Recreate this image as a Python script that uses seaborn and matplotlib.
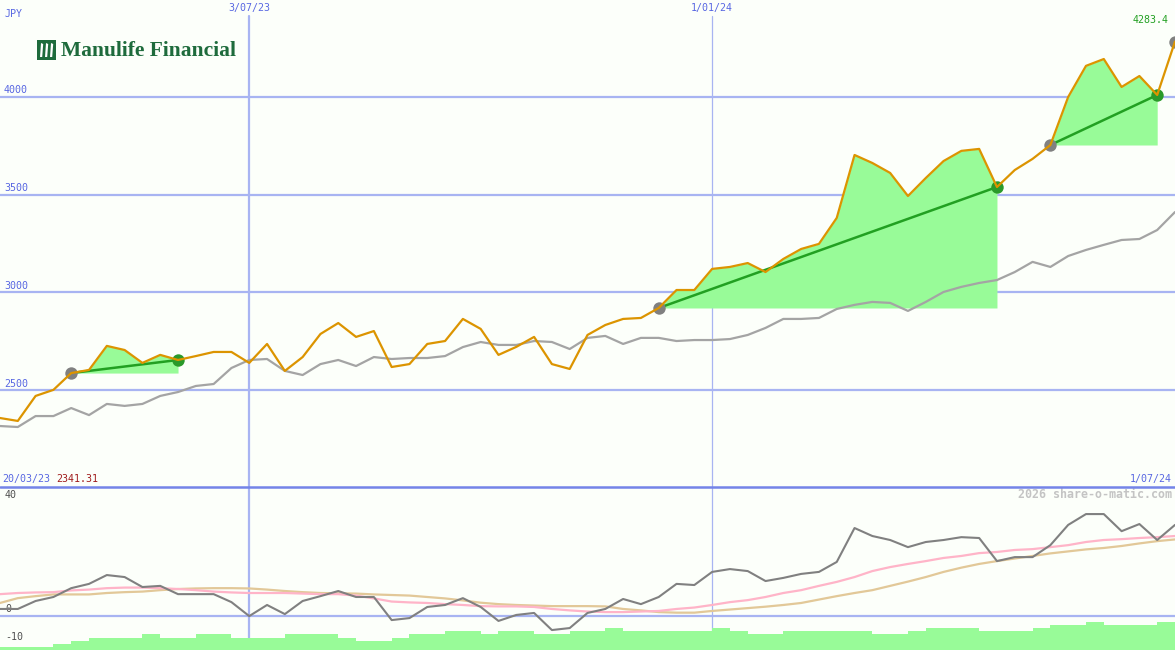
import numpy as np
import pandas as pd
import matplotlib
matplotlib.use("Agg")
import matplotlib.pyplot as plt
import matplotlib.transforms as mtransforms
from matplotlib.patches import Rectangle, Polygon
import seaborn as sns

# ---------------- data ----------------
start_date = "2023-03-27"
n_weeks = 67

price = [2357, 2342, 2470, 2501, 2587, 2603, 2726, 2705, 2639, 2680,
         2654, 2674, 2695, 2695, 2639, 2736, 2598, 2669, 2787, 2843,
         2772, 2802, 2618, 2633, 2736, 2751, 2864, 2813, 2680, 2721,
         2772, 2633, 2608, 2782, 2833, 2864, 2869, 2920, 3012, 3012,
         3120, 3130, 3150, 3104, 3171, 3222, 3248, 3381, 3703, 3662,
         3611, 3493, 3585, 3672, 3724, 3734, 3539, 3626, 3683, 3754,
         4000, 4159, 4194, 4051, 4107, 4010, 4283.4]

average = [2316, 2311, 2367, 2367, 2408, 2372, 2429, 2419, 2429, 2470,
           2490, 2521, 2531, 2613, 2654, 2659, 2598, 2577, 2633, 2654,
           2623, 2669, 2659, 2664, 2664, 2674, 2720, 2746, 2731, 2731,
           2751, 2746, 2710, 2767, 2777, 2736, 2767, 2767, 2751, 2756,
           2756, 2761, 2782, 2818, 2864, 2864, 2869, 2915, 2936, 2951,
           2946, 2905, 2951, 3002, 3028, 3048, 3063, 3104, 3156, 3130,
           3186, 3217, 3243, 3268, 3273, 3319, 3411]

momentum = [2.3, 2.3, 5.1, 6.5, 9.6, 11.1, 14.2, 13.5, 10.0, 10.4,
            7.5, 7.5, 7.5, 4.7, -0.2, 3.7, 0.5, 5.1, 6.8, 8.6,
            6.5, 6.5, -1.6, -0.9, 3.0, 3.7, 6.1, 3.0, -1.9, 0.2,
            0.9, -5.1, -4.4, 0.9, 2.3, 5.8, 4.0, 6.5, 11.1, 10.7,
            15.3, 16.3, 15.6, 12.1, 13.2, 14.6, 15.3, 18.8, 30.7, 27.9,
            26.5, 24.0, 25.8, 26.5, 27.5, 27.2, 19.1, 20.5, 20.5, 24.7,
            31.8, 35.6, 35.6, 29.6, 32.1, 26.5, 31.8]

momentum_fast = [7.5, 7.9, 8.1, 8.2, 8.8, 9.1, 9.6, 9.8, 9.8, 9.6,
                 9.3, 8.9, 8.4, 8.1, 7.9, 7.9, 7.9, 7.7, 7.5, 7.5,
                 7.0, 6.0, 4.9, 4.6, 4.4, 4.0, 3.7, 3.3, 3.2, 3.2,
                 3.0, 2.3, 1.8, 1.4, 1.2, 1.2, 1.4, 1.6, 2.3, 2.8,
                 3.7, 4.7, 5.4, 6.5, 7.9, 8.9, 10.4, 11.8, 13.5, 15.6,
                 17.0, 18.1, 19.1, 20.2, 20.9, 21.9, 22.3, 23.0, 23.3, 24.0,
                 24.7, 25.8, 26.5, 26.8, 27.2, 27.5, 27.9]

momentum_slow = [4.4, 6.1, 6.8, 7.4, 7.4, 7.4, 7.9, 8.2, 8.4, 8.9,
                 9.3, 9.5, 9.6, 9.6, 9.5, 9.1, 8.6, 8.2, 7.9, 7.8,
                 7.7, 7.4, 7.2, 7.0, 6.5, 6.0, 5.3, 4.5, 4.0, 3.7,
                 3.5, 3.3, 3.3, 3.3, 3.2, 2.3, 1.8, 1.2, 1.0, 1.0,
                 1.6, 2.1, 2.6, 3.1, 3.7, 4.4, 5.6, 6.8, 7.9, 8.9,
                 10.4, 11.9, 13.5, 15.3, 16.8, 18.1, 19.1, 20.0, 20.9, 21.8,
                 22.5, 23.2, 23.7, 24.4, 25.3, 26.1, 26.7]

volume = [1, 1, 1, 2, 3, 4, 4, 4, 5, 4,
          4, 5, 5, 4, 4, 4, 5, 5, 5, 4,
          3, 3, 4, 5, 5, 6, 6, 5, 6, 6,
          5, 5, 6, 6, 7, 6, 6, 6, 6, 6,
          7, 6, 5, 5, 6, 6, 6, 6, 6, 5,
          5, 6, 7, 7, 7, 6, 6, 6, 7, 8,
          8, 9, 8, 8, 8, 9, 9]

trades = [(4, 10), (37, 56), (59, 65)]   # (entry week, exit week)
price_levels = [2500, 3000, 3500, 4000]
osc_levels = [40, 0, -10]
date_marks = ["2023-07-03", "2024-01-01"]
first_label = ("20/03/23", "2341.31")
last_label = "1/07/24"
last_price_label = "4283.4"
currency = "JPY"

dates = pd.date_range(start_date, periods=n_weeks, freq="7D")
df = pd.DataFrame({"date": dates, "price": price, "average": average,
                   "momentum": momentum, "fast": momentum_fast,
                   "slow": momentum_slow, "volume": volume})

# ---------------- style ----------------
sns.set_style("white")
plt.rcParams["font.family"] = ["DejaVu Sans Mono", "DejaVu Sans"]

BG = "#FCFFFA"
GRID = "#A8B4F2"
SEP = "#7484E8"
LBL = "#5867E2"
ORANGE = "#DC9400"
PALEGREEN = "#98FB98"
GREEN = "#22A022"

W, H = 1175, 650
fig = plt.figure(figsize=(W / 100, H / 100), dpi=100, facecolor=BG)
top_h = 487
ax = fig.add_axes([0, (H - top_h) / H, 1, top_h / H])
ax2 = fig.add_axes([0, 0, 1, (H - top_h) / H])
for a in (ax, ax2):
    a.set_facecolor("none")
    a.set_axis_off()

x0, x1 = dates[0], dates[-1]
ax.set_xlim(x0, x1)
ax2.set_xlim(x0, x1)
ax.set_ylim(2004, 4496)
ax2.set_ylim(-12.1, 45.1)

# ---------------- upper panel ----------------
for lv in price_levels:
    ax.axhline(lv, color=GRID, lw=1.6, zorder=1)
    ax.text(4 / W, lv + 8, str(lv), transform=mtransforms.blended_transform_factory(ax.transAxes, ax.transData),
            color=LBL, fontsize=7.2, va="bottom", ha="left")

vtop = 1 - 16 / top_h
for k, d in enumerate(date_marks):
    dt = pd.Timestamp(d)
    ax.axvline(dt, ymin=0, ymax=vtop, color=GRID, lw=1.6 if k == 0 else 0.9, zorder=1)
    ax2.axvline(dt, color=GRID, lw=1.6 if k == 0 else 0.9, zorder=1)
    ax.text(dt, 1 - 8 / top_h, f"{dt.day}/{dt.month:02d}/{dt.year % 100:02d}",
            transform=mtransforms.blended_transform_factory(ax.transData, ax.transAxes),
            color=LBL, fontsize=7.2, ha="center", va="center")

ax.text(5 / W, 1 - 14 / top_h, currency, transform=ax.transAxes, color=LBL,
        fontsize=7.2, ha="left", va="center")

# trade fills
for s, e in trades:
    sub = df.iloc[s:e + 1]
    ax.fill_between(sub["date"], price[s], sub["price"], color=PALEGREEN, lw=0, zorder=2)

sns.lineplot(data=df, x="date", y="average", ax=ax, color="#A4A4A4", lw=1.6, zorder=3, legend=False)

for s, e in trades:
    seg = pd.DataFrame({"date": [dates[s], dates[e]], "price": [price[s], price[e]]})
    sns.lineplot(data=seg, x="date", y="price", ax=ax, color=GREEN, lw=1.8, zorder=4, legend=False)
    ax.scatter([dates[s]], [price[s]], s=80, color="#808080", zorder=5, linewidths=0)
    ax.scatter([dates[e]], [price[e]], s=80, color="#2A9A2A", zorder=5, linewidths=0)
ax.scatter([dates[-1]], [price[-1]], s=80, color="#808080", zorder=5, linewidths=0)

sns.lineplot(data=df, x="date", y="price", ax=ax, color=ORANGE, lw=1.6, zorder=6, legend=False)
ax.set_xlabel("")
ax.set_ylabel("")
ax.set_xlim(x0, x1)
ax.set_ylim(2004, 4496)
ax.set_axis_off()

ax.text(1 - 6 / W, 1 - 20 / top_h, last_price_label, transform=ax.transAxes,
        color=GREEN, fontsize=7.2, ha="right", va="center")

ax.text(2 / W, 8 / top_h, first_label[0], transform=ax.transAxes, color=LBL,
        fontsize=7.2, ha="left", va="center")
ax.text(56 / W, 8 / top_h, first_label[1], transform=ax.transAxes, color="#A01C1C",
        fontsize=7.2, ha="left", va="center")
ax.text(1 - 3 / W, 8 / top_h, last_label, transform=ax.transAxes, color=LBL,
        fontsize=7.2, ha="right", va="center")

# logo
fig.patches.append(Rectangle((37 / W, 1 - 60 / H), 19 / W, 20 / H, transform=fig.transFigure,
                             facecolor="#1E6B3C", edgecolor="none"))
for k in range(3):
    xs = (40 + k * 5) / W
    fig.patches.append(Polygon([(xs, 1 - 57 / H), (xs + 2.2 / W, 1 - 57 / H),
                                (xs + 3.2 / W, 1 - 44 / H), (xs + 1.0 / W, 1 - 43 / H)],
                               closed=True, transform=fig.transFigure,
                               facecolor="white", edgecolor="none"))
fig.text(61 / W, 1 - 51 / H, "Manulife Financial", color="#1E6B3C",
         fontsize=15.5, fontweight="bold", family="Liberation Serif", ha="left", va="center")

# ---------------- lower panel ----------------
ax2.plot([0, 1], [1, 1], transform=ax2.transAxes, color=SEP, lw=1.8, clip_on=False, zorder=10)
ax2.axhline(0, color=GRID, lw=1.6, zorder=1)

vol_unit = 1.09
ax2.bar(dates, [v * vol_unit for v in volume], width=7, align="edge", bottom=-12.1,
        color=PALEGREEN, lw=0, zorder=2)

sns.lineplot(data=df, x="date", y="slow", ax=ax2, color="#E2C898", lw=1.6, zorder=3, legend=False)
sns.lineplot(data=df, x="date", y="fast", ax=ax2, color="#FFB4C8", lw=1.6, zorder=4, legend=False)
sns.lineplot(data=df, x="date", y="momentum", ax=ax2, color="#808080", lw=1.5, zorder=5, legend=False)
ax2.set_xlim(x0, x1)
ax2.set_ylim(-12.1, 45.1)
ax2.set_axis_off()

for lv in osc_levels:
    ax2.text(5 / W, lv + 0.6, str(lv), transform=mtransforms.blended_transform_factory(ax2.transAxes, ax2.transData),
             color="#505050", fontsize=7.2, ha="left", va="bottom")

ax2.text(1 - 3 / W, 1 - 8 / (H - top_h), "2026 share-o-matic.com", transform=ax2.transAxes,
         color="#C4C4C4", fontsize=8.4, fontweight="bold", ha="right", va="center")

fig.savefig("out.png", dpi=100, facecolor=BG)
